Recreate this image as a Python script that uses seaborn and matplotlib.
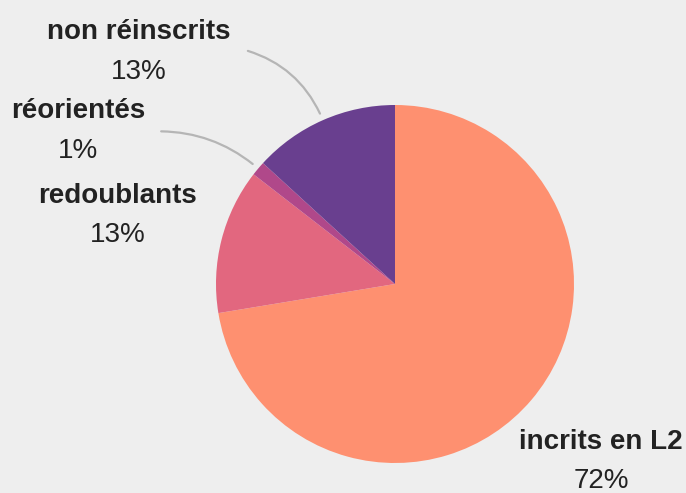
import numpy as np
import matplotlib
matplotlib.use("Agg")
import matplotlib.pyplot as plt
import seaborn as sns

#%% data
categories = ['incrits en L2', 'redoublants', 'réorientés', 'non réinscrits']
shares = [72.4, 13.1, 1.3, 13.2]
pct_labels = ['72%', '13%', '1%', '13%']
colors = ['#fe9070', '#e2677f', '#b0488a', '#693f8f']

#%% style
sns.set_theme(style='white')
plt.rcParams['font.family'] = ['Liberation Sans', 'DejaVu Sans']
bg = '#eeeeee'

fig = plt.figure(figsize=(6.86, 4.93), dpi=100)
fig.patch.set_facecolor(bg)
# pie centre at (395, 284) px, radius 179 px
ax = fig.add_axes([216 / 686, 30 / 493, 358 / 686, 358 / 493])
ax.set_facecolor(bg)

wedges, _ = ax.pie(shares, colors=colors, startangle=90, counterclock=False,
                   radius=1, wedgeprops=dict(linewidth=0))
ax.set_xlim(-1, 1)
ax.set_ylim(-1, 1)
ax.set_aspect('equal')
ax.axis('off')

# label baselines in pixel coords (x centre, name baseline, pct baseline)
label_pos = {
    'incrits en L2': (601, 449, 488),
    'redoublants': (118, 203, 242),
    'réorientés': (78, 118, 158),
    'non réinscrits': (139, 39, 79),
}

def to_data(px, py):
    return (px - 395) / 179, (284 - py) / 179

for name, pct in zip(categories, pct_labels):
    x, yb1, yb2 = label_pos[name]
    tx, ty1 = to_data(x, yb1)
    _, ty2 = to_data(x, yb2)
    ax.text(tx, ty1, name, ha='center', va='baseline', fontsize=20,
            fontweight='bold', color='#222222', clip_on=False)
    ax.text(tx, ty2, pct, ha='center', va='baseline', fontsize=20,
            color='#222222', clip_on=False)

# leader lines for the small upper slices
leaders = {'non réinscrits': (1.54, 8.5, -0.22), 'réorientés': (1.56, 7.0, -0.17)}
for w, name in zip(wedges, categories):
    if name not in leaders:
        continue
    r_out, dang, rad = leaders[name]
    mid = np.deg2rad((w.theta1 + w.theta2) / 2)
    a_out = mid + np.deg2rad(dang)
    p_in = (1.04 * np.cos(mid), 1.04 * np.sin(mid))
    p_out = (r_out * np.cos(a_out), r_out * np.sin(a_out))
    ax.annotate('', xy=p_in, xytext=p_out,
                arrowprops=dict(arrowstyle='-', color='#b5b5b5', lw=1.6,
                                shrinkA=0, shrinkB=0,
                                connectionstyle=f'arc3,rad={rad}'),
                annotation_clip=False)

fig.savefig('out.png', dpi=100, facecolor=bg)
